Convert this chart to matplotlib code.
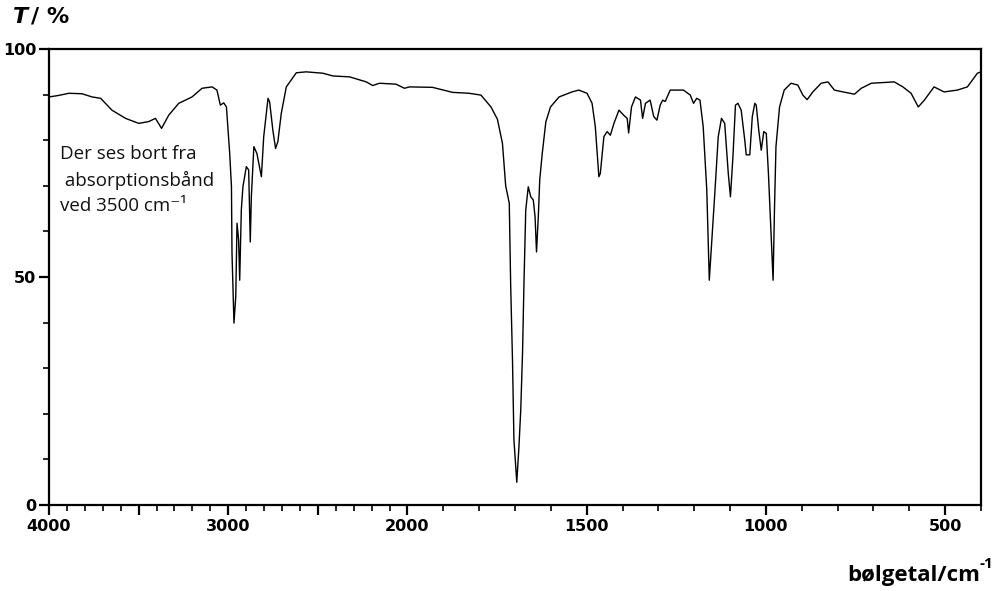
import numpy as np
import matplotlib
matplotlib.use("Agg")
import matplotlib.pyplot as plt
from matplotlib.ticker import FixedLocator, FixedFormatter

# ---- data (wavenumber in cm-1, transmittance in %) ----
wavenumber = [4000, 3950, 3889, 3816, 3760, 3712, 3649, 3573, 3499, 3443, 3406, 3372,
              3332, 3276, 3202, 3146, 3090, 3063, 3044, 3025, 3010, 2992, 2982, 2979,
              2968, 2958, 2951, 2942, 2936, 2927, 2918, 2899, 2886, 2877, 2871, 2857,
              2840, 2815, 2802, 2778, 2769, 2751, 2736, 2723, 2704, 2676, 2620, 2565,
              2472, 2416, 2323, 2230, 2194, 2156, 2064, 2017, 1994, 1930, 1874, 1828,
              1795, 1767, 1749, 1735, 1726, 1716, 1712, 1707, 1703, 1695, 1689, 1684,
              1679, 1675, 1670, 1663, 1656, 1649, 1644, 1640, 1635, 1631, 1624, 1614,
              1601, 1577, 1541, 1522, 1499, 1485, 1476, 1466, 1462, 1452, 1443, 1434,
              1424, 1410, 1397, 1387, 1383, 1375, 1364, 1350, 1344, 1336, 1323, 1313,
              1304, 1295, 1288, 1281, 1267, 1230, 1211, 1202, 1193, 1184, 1175, 1165,
              1158, 1152, 1142, 1133, 1124, 1115, 1105, 1099, 1092, 1085, 1078, 1069,
              1059, 1055, 1045, 1038, 1031, 1027, 1020, 1013, 1006, 999, 993, 983,
              980, 976, 972, 962, 949, 930, 911, 897, 885, 869, 846, 827,
              809, 785, 753, 734, 706, 642, 618, 595, 575, 558, 531, 503,
              466, 438, 410, 400]
transmittance = [89.5, 89.8, 90.3, 90.2, 89.5, 89.2, 86.6, 84.8, 83.7, 84.1, 84.8, 82.6,
                 85.5, 88.1, 89.5, 91.4, 91.7, 91.0, 87.7, 88.2, 87.3, 77.2, 69.8, 55.3,
                 39.9, 45.7, 61.8, 58.1, 49.3, 64.7, 69.8, 74.2, 73.5, 57.7, 67.6, 78.6,
                 77.1, 72.0, 80.8, 89.2, 88.4, 82.2, 78.2, 79.7, 85.9, 91.7, 94.8, 95.0,
                 94.7, 94.1, 93.9, 92.8, 92.0, 92.5, 92.3, 91.4, 91.7, 91.6, 90.5, 90.3,
                 89.9, 87.3, 84.6, 79.3, 70.0, 66.2, 47.9, 31.8, 14.3, 5.0, 12.8, 20.8,
                 33.3, 48.6, 64.7, 69.8, 67.6, 66.9, 63.2, 55.5, 63.2, 71.3, 77.1, 84.0,
                 87.3, 89.5, 90.6, 91.0, 90.3, 88.1, 83.0, 72.0, 72.7, 80.8, 81.9, 81.1,
                 83.7, 86.6, 85.5, 84.8, 81.6, 87.3, 89.5, 88.8, 84.8, 88.1, 88.8, 85.2,
                 84.4, 87.7, 88.8, 88.5, 91.0, 91.0, 89.9, 88.1, 89.2, 88.8, 83.0, 69.1,
                 49.3, 56.6, 69.1, 80.8, 84.8, 83.7, 72.7, 67.6, 76.4, 87.7, 88.1, 86.6,
                 80.0, 76.8, 76.8, 85.2, 88.1, 87.7, 82.2, 77.8, 81.9, 81.5, 72.7, 54.5,
                 49.3, 65.4, 78.6, 87.3, 91.0, 92.5, 92.1, 89.9, 88.9, 90.6, 92.5, 92.8,
                 91.0, 90.6, 90.1, 91.4, 92.5, 92.8, 91.7, 90.3, 87.3, 88.8, 91.7, 90.6,
                 91.0, 91.7, 94.7, 95.0]

x_major = [4000, 3500, 3000, 2500, 2000, 1500, 1000, 500]
x_major_labels = ["4000", "", "3000", "", "2000", "1500", "1000", "500"]
y_major = [0, 50, 100]
y_major_labels = ["0", "50", "100"]

annotation = "Der ses bort fra\n absorptionsbånd\nved 3500 cm\u207b\u00b9"
x_label = "bølgetal/cm"
x_label_sup = "-1"


# ---- piecewise linear x-scale (scale doubles below 2000 cm-1) ----
def fwd(w):
    w = np.asarray(w, dtype=float)
    return np.where(w >= 2000, w, 2000 - 2 * (2000 - w))


def inv(x):
    x = np.asarray(x, dtype=float)
    return np.where(x >= 2000, x, 2000 - (2000 - x) / 2)


fig = plt.figure(figsize=(10, 5.91), dpi=100)
ax = fig.add_axes([0.049, 0.1455, 0.932, 0.7715])
ax.set_xscale("function", functions=(fwd, inv))

ax.plot(wavenumber, transmittance, color="black", lw=1.0)

ax.set_xlim(4000, 400)
ax.set_ylim(0, 100)

ax.xaxis.set_major_locator(FixedLocator(x_major))
ax.xaxis.set_major_formatter(FixedFormatter(x_major_labels))
ax.xaxis.set_minor_locator(FixedLocator([v for v in range(400, 4000, 100) if v not in x_major]))
ax.yaxis.set_major_locator(FixedLocator(y_major))
ax.yaxis.set_major_formatter(FixedFormatter(y_major_labels))
ax.yaxis.set_minor_locator(FixedLocator([v for v in range(10, 100, 10) if v not in y_major]))

for sp in ax.spines.values():
    sp.set_linewidth(1.6)

ax.tick_params(which="major", length=7, width=1.6, direction="out")
ax.tick_params(which="minor", length=4, width=1.2, direction="out")
ax.tick_params(axis="x", which="major", pad=3)
ax.tick_params(axis="y", which="major", pad=2)
for lab in ax.get_xticklabels() + ax.get_yticklabels():
    lab.set_fontfamily("DejaVu Sans")
    lab.set_fontweight("bold")
    lab.set_fontsize(11.5)

ax.text(0.012, 0.79, annotation, transform=ax.transAxes, fontsize=13.5,
        family=["Open Sans", "DejaVu Sans"], color="#111111", va="top", ha="left",
        linespacing=1.53)

fig.text(0.012, 0.972, r"$\bfit{T}$", fontsize=16, va="center", ha="left",
         family="DejaVu Sans")
fig.text(0.031, 0.972, "/ %", fontsize=16, fontweight="bold", va="center", ha="left",
         family="DejaVu Sans")

fig.text(0.98, 0.027, x_label, fontsize=16, fontweight="bold",
         family="Open Sans", va="center", ha="right")
fig.text(0.98, 0.046, x_label_sup, fontsize=11, fontweight="bold",
         family="Open Sans", va="center", ha="left")

fig.savefig("out.png", dpi=100)
